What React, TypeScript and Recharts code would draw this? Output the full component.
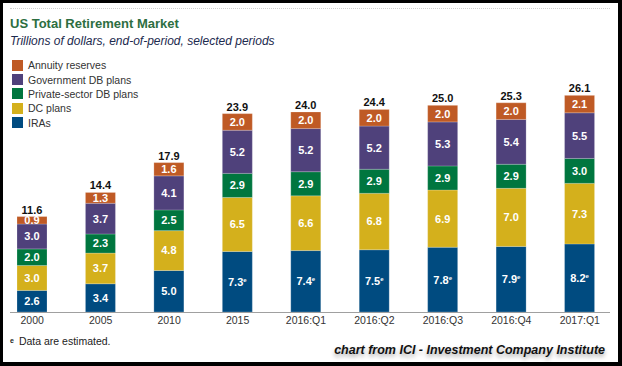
import { BarChart, Bar, XAxis, YAxis, LabelList } from 'recharts'

const periods = ['2000', '2005', '2010', '2015', '2016:Q1', '2016:Q2', '2016:Q3', '2016:Q4', '2017:Q1']
const iras = [2.6, 3.4, 5.0, 7.3, 7.4, 7.5, 7.8, 7.9, 8.2]
const dcPlans = [3.0, 3.7, 4.8, 6.5, 6.6, 6.8, 6.9, 7.0, 7.3]
const privateDb = [2.0, 2.3, 2.5, 2.9, 2.9, 2.9, 2.9, 2.9, 3.0]
const governmentDb = [3.0, 3.7, 4.1, 5.2, 5.2, 5.2, 5.3, 5.4, 5.5]
const annuities = [0.9, 1.3, 1.6, 2.0, 2.0, 2.0, 2.0, 2.0, 2.1]
const totals = [11.6, 14.4, 17.9, 23.9, 24.0, 24.4, 25.0, 25.3, 26.1]
const estimated = [false, false, false, true, true, true, true, true, true]

// stacking order, bottom to top
const series = [
  { key: 'iras', name: 'IRAs', color: '#004b80' },
  { key: 'dc', name: 'DC plans', color: '#d4b01c' },
  { key: 'priv', name: 'Private-sector DB plans', color: '#00763f' },
  { key: 'gov', name: 'Government DB plans', color: '#4f417b' },
  { key: 'annuity', name: 'Annuity reserves', color: '#bf5a25' },
]

const data = periods.map((p, i) => ({
  period: p,
  iras: iras[i],
  dc: dcPlans[i],
  priv: privateDb[i],
  gov: governmentDb[i],
  annuity: annuities[i],
  total: totals[i],
  est: estimated[i],
}))

const FONT = '"Liberation Sans", Arial, sans-serif'
const fmt = (v: any) => Number(v).toFixed(1)

function IraLabel(props: any) {
  const { x, y, width, height, value, index } = props
  const cx = x + width / 2
  const cy = y + height / 2
  return (
    <text x={cx} y={cy} dy={4} textAnchor="middle" fill="#fff" fontSize={11} fontWeight="bold" fontFamily={FONT}>
      {fmt(value)}
      {data[index].est && (
        <tspan fontSize={6} dy={-4}>
          e
        </tspan>
      )}
    </text>
  )
}

export default function App() {
  return (
    <div style={{ position: 'absolute', left: 0, top: 0, width: 622, height: 366, background: '#000', fontFamily: FONT, overflow: 'hidden' }}>
      <div style={{ position: 'absolute', left: 3, top: 3, width: 615, height: 359, background: '#fff' }} />
      <div style={{ position: 'absolute', left: 10, top: 8, width: 600, borderTop: '1px dotted #d0d0d0' }} />

      <div style={{ position: 'absolute', left: 10, top: 17, fontSize: 13, lineHeight: '13px', fontWeight: 'bold', color: '#2d6e41', whiteSpace: 'nowrap' }}>
        US Total Retirement Market
      </div>
      <div style={{ position: 'absolute', left: 10, top: 35, fontSize: 12, lineHeight: '12px', fontStyle: 'italic', color: '#1c2a4e', whiteSpace: 'nowrap' }}>
        Trillions of dollars, end-of-period, selected periods
      </div>

      <div style={{ position: 'absolute', left: 12, top: 58 }}>
        {[...series].reverse().map((s) => (
          <div key={s.key} style={{ display: 'flex', alignItems: 'center', height: 14.4 }}>
            <div style={{ width: 11, height: 11, background: s.color, marginRight: 5 }} />
            <span style={{ fontSize: 10.5, color: '#333', whiteSpace: 'nowrap' }}>{s.name}</span>
          </div>
        ))}
      </div>

      <div style={{ position: 'absolute', left: -2, top: 0 }}>
        <BarChart width={620} height={366} data={data} margin={{ top: 63, right: 4, left: 0, bottom: 24 }} barSize={30}>
          <XAxis
            dataKey="period"
            height={30}
            axisLine={false}
            tickLine={false}
            tickSize={4}
            tickMargin={1}
            interval={0}
            tick={{ fontSize: 10.5, fill: '#333', fontFamily: FONT }}
          />
          <YAxis hide domain={[0, 30]} />
          {series.map((s) => (
            <Bar
              key={s.key}
              dataKey={s.key}
              name={s.name}
              stackId="a"
              fill={s.color}
              stroke="#ffffff"
              strokeOpacity={0.35}
              strokeWidth={0.6}
              isAnimationActive={false}
            >
              {s.key === 'iras' ? (
                <LabelList dataKey={s.key} content={IraLabel} />
              ) : (
                <LabelList
                  dataKey={s.key}
                  position="center"
                  formatter={fmt}
                  fill="#fff"
                  stroke="none"
                  fontSize={11}
                  fontWeight="bold"
                  fontFamily={FONT}
                />
              )}
              {s.key === 'annuity' && (
                <LabelList
                  dataKey="total"
                  position="top"
                  offset={3}
                  formatter={fmt}
                  fill="#111"
                  stroke="none"
                  fontSize={11}
                  fontWeight="bold"
                  fontFamily={FONT}
                />
              )}
            </Bar>
          ))}
        </BarChart>
      </div>

      <div style={{ position: 'absolute', left: 10, top: 312, width: 600, borderTop: '1px solid #a0a0a0' }} />

      <div style={{ position: 'absolute', left: 10, top: 334, fontSize: 10.5, lineHeight: '14px', color: '#222', whiteSpace: 'nowrap' }}>
        <span style={{ fontSize: 7, fontWeight: 'bold', verticalAlign: 'top', marginRight: 5 }}>e</span>
        Data are estimated.
      </div>
      <div
        style={{
          position: 'absolute',
          right: 17,
          top: 343,
          fontSize: 12.5,
          lineHeight: '15px',
          fontWeight: 'bold',
          fontStyle: 'italic',
          color: '#111',
          whiteSpace: 'nowrap',
          textShadow: '0 3px 4px rgba(0,0,0,0.35)',
        }}
      >
        chart from ICI - Investment Company Institute
      </div>
    </div>
  )
}
